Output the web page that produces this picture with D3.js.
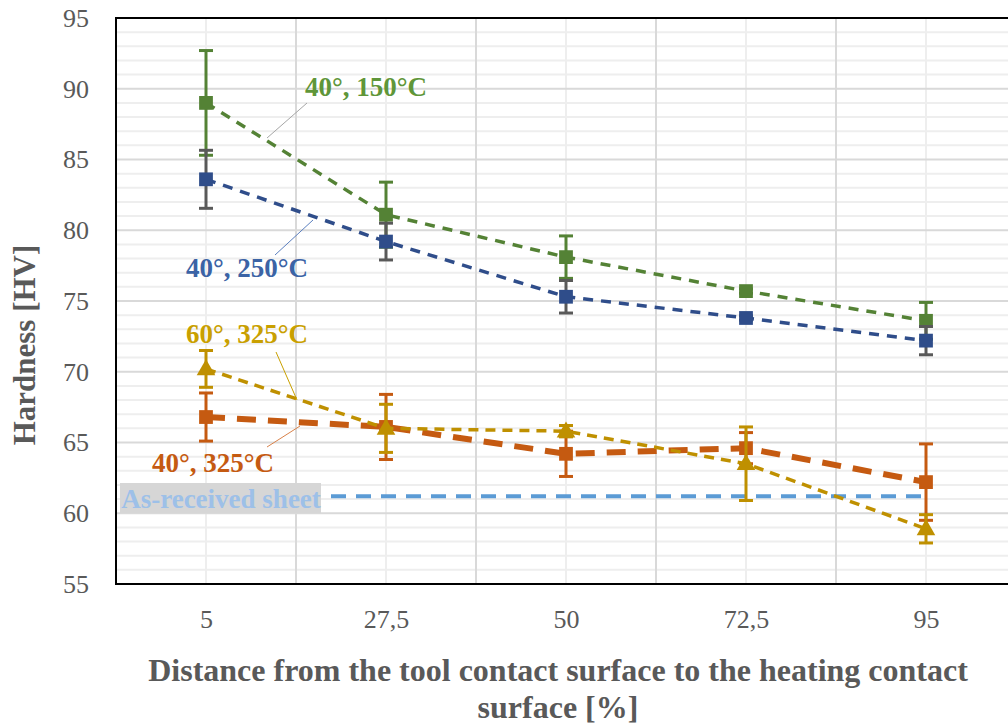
<!DOCTYPE html>
<html><head><meta charset="utf-8">
<script src="https://cdn.jsdelivr.net/npm/d3@7"></script>
<style>body{margin:0;background:#fff}svg{display:block}</style>
</head><body>
<svg id="c" width="1008" height="725"></svg>
<script>
const categories = ["5","27,5","50","72,5","95"];
const yTicks = [55,60,65,70,75,80,85,90,95];
const s150 = [89.0, 81.1, 78.1, 75.7, 73.6];
const e150 = [3.7, 2.3, 1.5, 0.15, 1.3];
const s250 = [83.6, 79.2, 75.3, 73.8, 72.2];
const e250 = [2.05, 1.3, 1.15, 0.15, 1.0];
const s60_325 = [70.2, 66.0, 65.8, 63.5, 58.9];
const e60_325 = [1.3, 1.7, 0.4, 2.6, 1.0];
const s40_325 = [66.8, 66.1, 64.2, 64.6, 62.2];
const e40_325 = [1.7, 2.3, 1.6, 1.1, 2.7];
const asReceived = [61.2, 61.2, 61.2, 61.2, 61.2];

const svg = d3.select("#c");
const L = 116, R = 1016, T = 18, B = 584;
const xb = d3.scaleBand().domain(categories).range([L, R]);
const x = d3.scalePoint().domain(categories).range([L, R]).padding(0.5);
const y = d3.scaleLinear().domain([55, 95]).range([B, T]);
const serif = "'Liberation Serif','Times New Roman',serif";
const gray = "#595959";

// gridlines
const g = svg.append("g");
d3.range(55, 95.01, 1).forEach(v => {
  if (v % 5 !== 0) g.append("line").attr("x1", L).attr("x2", R).attr("y1", y(v)).attr("y2", y(v)).attr("stroke", "#eeeeee").attr("stroke-width", 2);
});
categories.forEach(c => {
  g.append("line").attr("x1", x(c)).attr("x2", x(c)).attr("y1", T).attr("y2", B).attr("stroke", "#eeeeee").attr("stroke-width", 2);
});
yTicks.forEach(v => {
  g.append("line").attr("x1", L).attr("x2", R).attr("y1", y(v)).attr("y2", y(v)).attr("stroke", "#d9d9d9").attr("stroke-width", 2);
});
categories.slice(1).forEach(c => {
  g.append("line").attr("x1", xb(c)).attr("x2", xb(c)).attr("y1", T).attr("y2", B).attr("stroke", "#d9d9d9").attr("stroke-width", 2);
});

// axes (tick labels)
const yAxis = d3.axisLeft(y).tickValues(yTicks).tickSize(0).tickPadding(27);
const ya = svg.append("g").attr("transform", `translate(${L},0)`).call(yAxis);
ya.select(".domain").remove();
ya.selectAll("text").attr("font-family", serif).attr("font-size", 26).attr("fill", gray);
const xAxis = d3.axisBottom(x).tickSize(0).tickPadding(26);
const xa = svg.append("g").attr("transform", `translate(0,${B})`).call(xAxis);
xa.select(".domain").remove();
xa.selectAll("text").attr("font-family", serif).attr("font-size", 26).attr("fill", gray);

// plot border
svg.append("rect").attr("x", L).attr("y", T).attr("width", R - L).attr("height", B - T)
  .attr("fill", "none").attr("stroke", "#000").attr("stroke-width", 2);

const line = d3.line().x((d, i) => x(categories[i])).y(d => y(d));

function series(vals, errs, color, errColor, width, dash, marker) {
  const gg = svg.append("g");
  gg.append("path").datum(vals).attr("d", line).attr("fill", "none")
    .attr("stroke", color).attr("stroke-width", width).attr("stroke-dasharray", dash);
  if (errs) {
    vals.forEach((v, i) => {
      const cx = x(categories[i]);
      gg.append("line").attr("x1", cx).attr("x2", cx).attr("y1", y(v + errs[i])).attr("y2", y(v - errs[i])).attr("stroke", errColor).attr("stroke-width", 3);
      [v + errs[i], v - errs[i]].forEach(e => gg.append("line").attr("x1", cx - 7).attr("x2", cx + 7).attr("y1", y(e)).attr("y2", y(e)).attr("stroke", errColor).attr("stroke-width", 3));
    });
  }
  if (marker) {
    const sym = d3.symbol().type(marker === "tri" ? d3.symbolTriangle : d3.symbolSquare).size(marker === "tri" ? 150 : 190);
    vals.forEach((v, i) => {
      gg.append("path").attr("d", sym).attr("transform", `translate(${x(categories[i])},${y(v) + (marker === "tri" ? 1 : 0)})`).attr("fill", color);
    });
  }
}

series(asReceived, null, "#5b9bd5", null, 4, "15,10", null);
series(s40_325, e40_325, "#c55a11", "#c55a11", 6, "19,12", "sq");
series(s60_325, e60_325, "#bf9000", "#bf9000", 3.5, "10,7", "tri");
series(s150, e150, "#548235", "#548235", 3.5, "10,8", "sq");
series(s250, e250, "#2f4d8a", "#595959", 3.5, "10,8", "sq");

// leader lines & labels
function label(txt, tx, ty, color, lx1, ly1, lx2, ly2, lcolor) {
  svg.append("line").attr("x1", lx1).attr("y1", ly1).attr("x2", lx2).attr("y2", ly2).attr("stroke", lcolor).attr("stroke-width", 1);
  svg.append("text").attr("x", tx).attr("y", ty).attr("font-family", serif).attr("font-weight", "bold")
    .attr("font-size", 27).attr("fill", color).text(txt);
}
label("40°, 150°C", 305, 96, "#5f9639", 307, 103, 267, 138, "#a6a6a6");
label("40°, 250°C", 186, 277, "#3b63a5", 313, 220, 275, 255, "#5b7fbf");
label("60°, 325°C", 186, 343, "#c9a000", 276, 352, 297, 400, "#c9a000");
label("40°, 325°C", 152, 472, "#c55a11", 267, 447, 300, 426, "#d9824a");

// as-received label box
svg.append("rect").attr("x", 120).attr("y", 483).attr("width", 201).attr("height", 30).attr("fill", "#d6d6d6");
svg.append("text").attr("x", 221).attr("y", 508).attr("text-anchor", "middle").attr("font-family", serif)
  .attr("font-weight", "bold").attr("font-size", 27).attr("fill", "#9dc0e8").text("As-received sheet");

// axis titles
svg.append("text").attr("transform", "translate(35,345) rotate(-90)").attr("text-anchor", "middle")
  .attr("font-family", serif).attr("font-weight", "bold").attr("font-size", 31).attr("fill", gray).text("Hardness [HV]");
svg.append("text").attr("x", 558).attr("y", 681).attr("text-anchor", "middle").attr("font-family", serif)
  .attr("font-weight", "bold").attr("font-size", 32).attr("fill", gray).text("Distance from the tool contact surface to the heating contact");
svg.append("text").attr("x", 558).attr("y", 718).attr("text-anchor", "middle").attr("font-family", serif)
  .attr("font-weight", "bold").attr("font-size", 32).attr("fill", gray).text("surface [%]");
</script>
</body></html>
